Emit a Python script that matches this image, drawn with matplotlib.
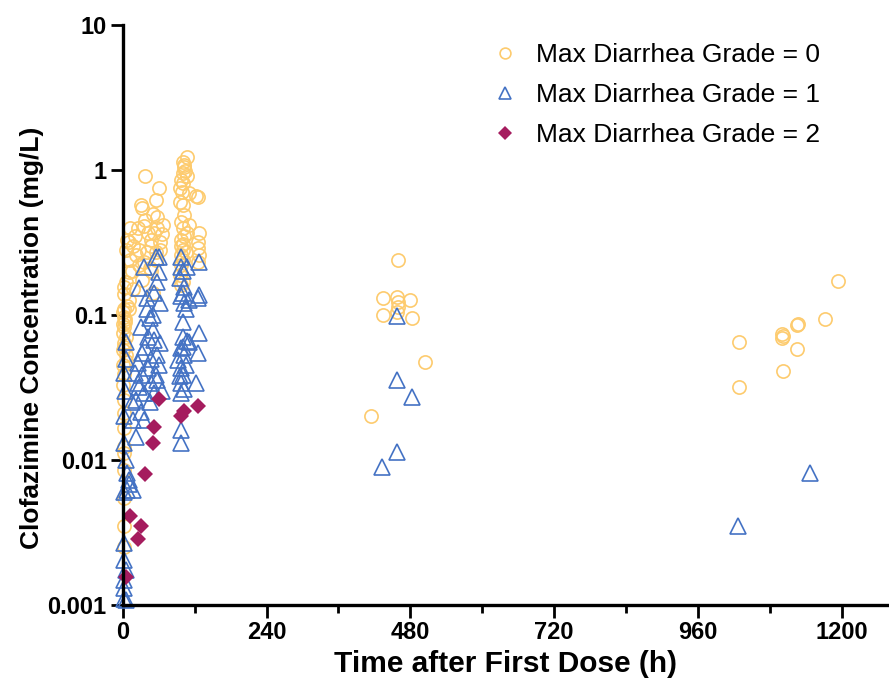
import numpy as np
import matplotlib
matplotlib.use("Agg")
import matplotlib.pyplot as plt
from matplotlib.ticker import FixedLocator, NullLocator

plt.rcParams['font.family'] = ['Liberation Sans', 'DejaVu Sans']

# grade 0 (circles): time (h), concentration (mg/L)
g0_time = [108, 100, 103, 100, 108, 100, 95, 110, 125, 100, 103, 97, 100, 108, 97, 97,
           100, 97, 100, 97, 100, 97, 103, 100, 105, 95, 110, 95, 97, 104, 102, 99,
           123, 127, 125, 125, 127, 125,
           37, 60, 30, 32, 55, 50, 58, 38, 13, 25, 35, 58, 8, 47, 63, 10, 27, 47, 55,
           13, 35, 55, 10, 47, 33, 17, 50, 20, 42, 65, 22, 40, 5, 15, 28, 45, 62, 68,
           52, 18,
           10, 2, 2, 5, 2, 5, 2, 2, 2, 2, 2, 2, 2, 2, 2, 3, 1, 4, 0, 3, 1, 0, 2, 10, 8,
           3, 6, 2, 4, 1, 0, 5,
           460, 435, 458, 480, 460, 460, 458, 435, 483, 505, 415,
           1193, 1172, 1125, 1127, 1100, 1100, 1102, 1028, 1125, 1102, 1028]
g0_conc = [1.23, 1.14, 1.05, 0.95, 0.91, 0.81, 0.75, 0.69, 0.65, 0.57, 0.49, 0.44, 0.40,
           0.37, 0.33, 0.30, 0.28, 0.26, 0.24, 0.22, 0.17, 0.16, 0.35, 0.31, 0.27, 0.19,
           0.42, 0.60, 0.85, 0.98, 1.08, 0.70,
           0.66, 0.37, 0.32, 0.29, 0.26, 0.23,
           0.91, 0.75, 0.57, 0.55, 0.62, 0.50, 0.47, 0.45, 0.40, 0.40, 0.41, 0.40, 0.33,
           0.33, 0.32, 0.32, 0.28, 0.30, 0.27, 0.24, 0.23, 0.24, 0.197, 0.20, 0.174,
           0.15, 0.142, 0.35, 0.37, 0.36, 0.26, 0.27, 0.28, 0.20, 0.22, 0.21, 0.28,
           0.42, 0.37, 0.30,
           0.127, 0.097, 0.082, 0.0705, 0.064, 0.053, 0.0395, 0.0259, 0.0166, 0.0123,
           0.0112, 0.0085, 0.0055, 0.0035, 0.0025, 0.11, 0.105, 0.09, 0.075, 0.06,
           0.045, 0.033, 0.021, 0.11, 0.115, 0.155, 0.17, 0.14, 0.094, 0.087, 0.057,
           0.048,
           0.239, 0.131, 0.133, 0.127, 0.122, 0.114, 0.105, 0.10, 0.0955, 0.0474, 0.0201,
           0.172, 0.094, 0.0853, 0.087, 0.074, 0.0694, 0.072, 0.0651, 0.0583, 0.0411,
           0.0319]

# grade 1 (triangles)
g1_time = [97, 108, 97, 100, 110, 102, 100, 110, 97, 93, 97, 100, 97, 97, 97, 97, 103,
           100, 105, 95, 103, 108, 100, 97, 103, 95, 100, 105,
           127, 127, 127, 125, 122, 125,
           60, 35, 60, 55, 27, 52, 63, 30, 50, 42, 52, 63, 58, 25, 43, 55, 33, 25, 47,
           58, 35, 52, 22, 30, 17, 35, 22, 40, 45, 38, 48, 33, 20, 28, 45, 15, 60, 65,
           50, 57, 40,
           2, 5, 8, 10, 8, 17, 2, 10, 2, 2, 5, 2, 2, 5, 2, 3, 5, 2, 4, 6,
           458, 458, 482, 458, 433, 1147, 1027]
g1_conc = [0.25, 0.214, 0.214, 0.142, 0.127, 0.121, 0.0705, 0.065, 0.059, 0.049, 0.043,
           0.0386, 0.034, 0.029, 0.0161, 0.0132, 0.053, 0.06, 0.045, 0.038, 0.031, 0.066,
           0.09, 0.135, 0.155, 0.18, 0.20, 0.11,
           0.23, 0.138, 0.0755, 0.055, 0.034, 0.13,
           0.25, 0.214, 0.197, 0.25, 0.153, 0.142, 0.121, 0.082, 0.0788, 0.0705, 0.0672,
           0.064, 0.053, 0.0466, 0.0431, 0.0386, 0.0386, 0.034, 0.034, 0.0356, 0.029,
           0.029, 0.0259, 0.0214, 0.0189, 0.0189, 0.0144, 0.11, 0.095, 0.06, 0.05, 0.055,
           0.04, 0.032, 0.025, 0.025, 0.045, 0.03, 0.10, 0.17, 0.13,
           0.0132, 0.01, 0.0081, 0.0073, 0.0062, 0.0062, 0.006, 0.0069, 0.00268, 0.00204,
           0.00174, 0.00149, 0.00131, 0.00108, 0.0011, 0.04, 0.065, 0.02, 0.03, 0.05,
           0.099, 0.0356, 0.0272, 0.0114, 0.0089, 0.0081, 0.0035]

# grade 2 (diamonds)
g2_time = [5, 12, 30, 25, 37, 50, 53, 60, 97, 102, 125]
g2_conc = [0.00156, 0.0041, 0.0035, 0.00285, 0.0080, 0.0131, 0.0169, 0.0264, 0.0201,
           0.0218, 0.0236]

fig = plt.figure(figsize=(8.89, 6.87), dpi=100)
ax = fig.add_axes([0.138, 0.119, 0.861, 0.845])

ax.plot(g0_time, g0_conc, 'o', ls='none', ms=9.5, mfc='none', mec='#FDCB6E',
        mew=1.2, clip_on=False, label='Max Diarrhea Grade = 0')
ax.plot(g1_time, g1_conc, '^', ls='none', ms=11, mfc='none', mec='#4472C4',
        mew=1.2, clip_on=False, label='Max Diarrhea Grade = 1')
ax.plot(g2_time, g2_conc, 'D', ls='none', ms=8.5, mfc='#A51C5E', mec='#A51C5E',
        mew=0, clip_on=False, label='Max Diarrhea Grade = 2')

ax.set_yscale('log')
ax.set_ylim(0.001, 10)
ax.set_xlim(0, 1277)
ax.yaxis.set_major_locator(FixedLocator([0.001, 0.01, 0.1, 1, 10]))
ax.set_yticklabels(['0.001', '0.01', '0.1', '1', '10'])
ax.yaxis.set_minor_locator(NullLocator())
ax.set_xticks([0, 240, 480, 720, 960, 1200])
ax.set_xticks([120, 360, 600, 840, 1080], minor=True)

for s in ['top', 'right']:
    ax.spines[s].set_visible(False)
for s in ['left', 'bottom']:
    ax.spines[s].set_linewidth(2.4)

ax.tick_params(axis='both', which='major', length=9, width=2.0, pad=2.5,
               labelsize=17)
ax.tick_params(axis='x', which='minor', length=6, width=2.0)
for lab in ax.get_xticklabels() + ax.get_yticklabels():
    lab.set_fontweight('bold')

ax.set_xlabel('Time after First Dose (h)', fontsize=21.5, fontweight='bold',
              labelpad=4)
ax.set_ylabel('Clofazimine Concentration (mg/L)', fontsize=19, fontweight='bold')
ax.yaxis.set_label_coords(-0.103, 0.46)

leg = ax.legend(loc='upper left', bbox_to_anchor=(0.443, 1.009), frameon=False,
                fontsize=19, handlelength=1.5, handletextpad=0.4,
                labelspacing=0.6, borderpad=0.4, markerscale=0.82)

fig.savefig('out.png', dpi=100)
